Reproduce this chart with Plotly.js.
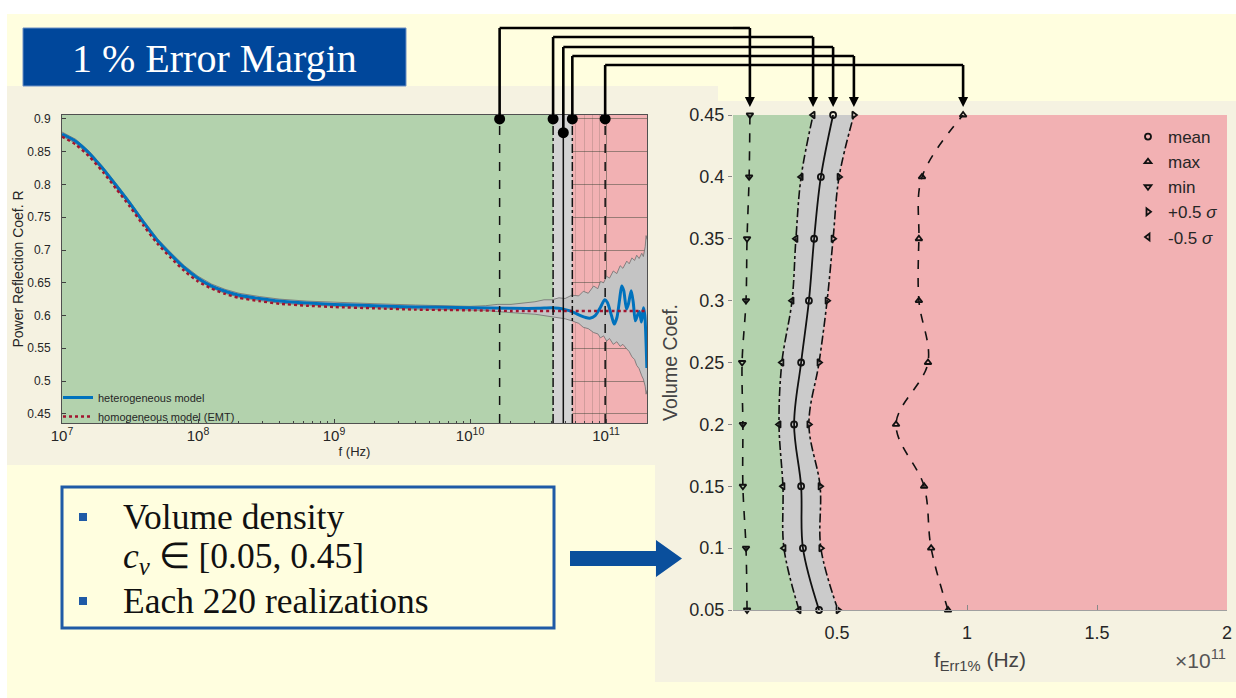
<!DOCTYPE html>
<html>
<head>
<meta charset="utf-8">
<script src="https://cdn.plot.ly/plotly-3.0.1.min.js"></script>
<style>
  html, body { margin: 0; padding: 0; background: #ffffff; }
  #chart { width: 1236px; height: 698px; }
</style>
</head>
<body>
<div id="chart"></div>
<script>
// ---------------- data ----------------
// Volume coefficient c_v of each simulated set
const volumeCoef = [0.05, 0.10, 0.15, 0.20, 0.25, 0.30, 0.35, 0.40, 0.45];

// Frequency at which the 1 % error is first exceeded, in units of 1e11 Hz
const fMin           = [0.154, 0.150, 0.138, 0.138, 0.135, 0.150, 0.154, 0.162, 0.165];
const fMinusHalfSig  = [0.354, 0.296, 0.292, 0.277, 0.288, 0.327, 0.342, 0.362, 0.408];
const fMean          = [0.431, 0.369, 0.362, 0.335, 0.362, 0.392, 0.412, 0.438, 0.485];
const fPlusHalfSig   = [0.504, 0.438, 0.435, 0.392, 0.431, 0.462, 0.485, 0.508, 0.565];
const fMax           = [0.927, 0.862, 0.835, 0.727, 0.850, 0.815, 0.815, 0.827, 0.985];

// Power reflection coefficient of the heterogeneous model (mean over realizations)
const heteroFreq = [1e7, 1.26e7, 1.58e7, 2e7, 2.51e7, 3.16e7, 3.98e7, 5.01e7, 6.31e7, 7.94e7,
  1e8, 1.26e8, 1.58e8, 2e8, 2.82e8, 3.98e8, 6.31e8, 1e9, 2e9, 3.98e9,
  1e10, 2e10, 3.16e10, 3.98e10, 4.47e10, 5.01e10, 5.62e10, 6.31e10, 7.08e10, 7.59e10,
  8.32e10, 9.12e10, 9.77e10, 1.023e11, 1.096e11, 1.148e11, 1.202e11, 1.259e11, 1.303e11, 1.349e11,
  1.413e11, 1.462e11, 1.531e11, 1.585e11, 1.641e11, 1.698e11, 1.758e11, 1.82e11, 1.884e11, 1.928e11, 1.995e11];
const heteroR = [0.877, 0.866, 0.848, 0.824, 0.798, 0.771, 0.742, 0.715, 0.693, 0.673,
  0.657, 0.645, 0.637, 0.631, 0.626, 0.622, 0.619, 0.617, 0.615, 0.613,
  0.612, 0.611, 0.611, 0.612, 0.611, 0.609, 0.606, 0.601, 0.597, 0.596,
  0.600, 0.613, 0.624, 0.620, 0.600, 0.587, 0.597, 0.625, 0.645, 0.638,
  0.610, 0.618, 0.638, 0.620, 0.592, 0.600, 0.606, 0.590, 0.612, 0.600, 0.520];

// Homogeneous model (effective medium theory)
const emtFreq = [1e7, 1.26e7, 1.58e7, 2e7, 2.51e7, 3.16e7, 3.98e7, 5.01e7, 6.31e7, 7.94e7,
  1e8, 1.26e8, 1.58e8, 2e8, 2.82e8, 3.98e8, 6.31e8, 1e9, 2e9, 3.98e9,
  1e10, 2e10, 5e10, 1e11, 2e11];
const emtR = [0.873, 0.861, 0.843, 0.819, 0.793, 0.766, 0.737, 0.710, 0.688, 0.668,
  0.652, 0.641, 0.633, 0.627, 0.622, 0.618, 0.615, 0.613, 0.611, 0.609,
  0.608, 0.607, 0.607, 0.607, 0.607];

// Min / max envelope over all realizations
const envFreq = [1e7, 1.26e7, 1.58e7, 2e7, 2.51e7, 3.16e7, 3.98e7, 5.01e7, 6.31e7, 7.94e7,
  1e8, 1.26e8, 1.58e8, 2e8, 2.82e8, 3.98e8, 6.31e8, 1e9, 2e9, 3.98e9,
  1e10, 1.3e10, 1.6e10, 2e10, 2.5e10, 3e10, 3.5e10, 4e10, 4.5e10, 5e10,
  5.6e10, 6.3e10, 6.8e10, 7.4e10, 8.1e10, 8.7e10, 9.1e10, 9.6e10, 1.01e11, 1.06e11,
  1.13e11, 1.2e11, 1.27e11, 1.33e11, 1.42e11, 1.48e11, 1.55e11, 1.62e11, 1.68e11, 1.75e11,
  1.83e11, 1.88e11, 1.94e11, 1.97e11, 2e11];
const envUpper = [0.880, 0.869, 0.851, 0.827, 0.801, 0.774, 0.745, 0.718, 0.696, 0.676,
  0.660, 0.648, 0.640, 0.634, 0.629, 0.625, 0.622, 0.620, 0.618, 0.616,
  0.614, 0.615, 0.617, 0.617, 0.619, 0.621, 0.624, 0.624, 0.627, 0.626,
  0.631, 0.630, 0.637, 0.634, 0.645, 0.641, 0.652, 0.650, 0.660, 0.657,
  0.668, 0.664, 0.676, 0.672, 0.683, 0.679, 0.688, 0.684, 0.692, 0.687,
  0.695, 0.690, 0.705, 0.722, 0.716];
const envLower = [0.874, 0.863, 0.845, 0.821, 0.795, 0.768, 0.739, 0.712, 0.690, 0.670,
  0.654, 0.642, 0.634, 0.628, 0.623, 0.619, 0.616, 0.614, 0.612, 0.610,
  0.609, 0.608, 0.606, 0.605, 0.603, 0.602, 0.600, 0.599, 0.597, 0.595,
  0.592, 0.588, 0.582, 0.580, 0.574, 0.572, 0.566, 0.569, 0.561, 0.565,
  0.556, 0.560, 0.553, 0.556, 0.549, 0.545, 0.537, 0.533, 0.524, 0.519,
  0.508, 0.503, 0.492, 0.480, 0.486];

// tick labels
const rTicks = [0.45, 0.5, 0.55, 0.6, 0.65, 0.7, 0.75, 0.8, 0.85, 0.9];
const fErrTicks = [0.5, 1, 1.5, 2];

// ---------------- styling ----------------
const W = 1236, H = 698;
const PX = v => v / W;          // page column -> paper fraction
const PY = v => 1 - v / H;      // page row    -> paper fraction

const SANS = 'Liberation Sans, Arial, sans-serif';
const SERIF = 'Liberation Serif, Times New Roman, serif';
const INK = '#262626';
const YELLOW = '#fffedf';
const BEIGE = '#f5f2e1';
const GREEN = '#b3d2ad';
const PINK = '#f2b1b3';
const GRAYZONE = '#cbcbcb';
const SLIDE_BLUE = '#1f5aa6';

const F_RANGE = [1e7, 2e11];      // left chart frequency span (Hz)
const R_RANGE = [0.436, 0.906];
const FERR_RANGE = [0.1, 2];      // right chart span (x 1e11 Hz)
const CV_RANGE = [0.05, 0.45];
const SCALE = 1e11;
const topRow = volumeCoef.length - 1;   // c_v = 0.45 row, the one mapped onto the spectrum
const DOT_R = [0.9, 0.879];             // heights of the pick-off dots on the spectrum
const DOT_ROWS = [119, 133];            // the same heights as page rows, for the connector ends

// ---------------- traces: spectrum (left) ----------------
const L = {xaxis: 'x', yaxis: 'y', hoverinfo: 'skip', legend: 'legend2'};
const traces = [];

// accuracy zones along the frequency axis
traces.push(Object.assign({}, L, {
  x: [F_RANGE[0], fMinusHalfSig[topRow] * SCALE, fMinusHalfSig[topRow] * SCALE, F_RANGE[0]],
  y: [R_RANGE[0], R_RANGE[0], R_RANGE[1], R_RANGE[1]],
  mode: 'lines', fill: 'toself', fillcolor: GREEN, line: {width: 0}, showlegend: false
}));
traces.push(Object.assign({}, L, {
  x: [fMinusHalfSig[topRow] * SCALE, fPlusHalfSig[topRow] * SCALE, fPlusHalfSig[topRow] * SCALE, fMinusHalfSig[topRow] * SCALE],
  y: [R_RANGE[0], R_RANGE[0], R_RANGE[1], R_RANGE[1]],
  mode: 'lines', fill: 'toself', fillcolor: '#d3d3d3', line: {width: 0}, showlegend: false
}));

// spread of all realizations
traces.push(Object.assign({}, L, {
  x: envFreq, y: envLower, mode: 'lines', line: {color: '#6e6e6e', width: 0.8}, showlegend: false
}));
traces.push(Object.assign({}, L, {
  x: envFreq, y: envUpper, mode: 'lines', fill: 'tonexty', fillcolor: '#c4c4c4',
  line: {color: '#6e6e6e', width: 0.8}, showlegend: false
}));

traces.push(Object.assign({}, L, {
  x: heteroFreq, y: heteroR, mode: 'lines', name: 'heterogeneous model',
  line: {color: '#0072bd', width: 3, shape: 'spline', smoothing: 0.7}
}));
traces.push(Object.assign({}, L, {
  x: emtFreq, y: emtR, mode: 'lines', name: 'homogeneous model (EMT)',
  line: {color: '#a2142f', width: 2.4, dash: 'dot', shape: 'spline', smoothing: 0.6}
}));

// statistic markers on the spectrum
const stats = [
  {arr: fMin,          dash: 'dash',    level: 28, dot: 0},
  {arr: fMinusHalfSig, dash: 'dashdot', level: 37, dot: 0},
  {arr: fMean,         dash: 'solid',   level: 47, dot: 1},
  {arr: fPlusHalfSig,  dash: 'dashdot', level: 56, dot: 0},
  {arr: fMax,          dash: 'dash',    level: 65, dot: 0}
];
stats.forEach(s => {
  traces.push(Object.assign({}, L, {
    x: [s.arr[topRow] * SCALE, s.arr[topRow] * SCALE], y: R_RANGE, mode: 'lines',
    line: {color: '#111111', width: 1.5, dash: s.dash}, showlegend: false
  }));
});
traces.push(Object.assign({}, L, {
  x: stats.map(s => s.arr[topRow] * SCALE), y: stats.map(s => DOT_R[s.dot]),
  mode: 'markers', cliponaxis: false, showlegend: false,
  marker: {symbol: 'circle', size: 11, color: '#000000'}
}));

// ---------------- traces: f_Err1% vs c_v (right) ----------------
const R = {xaxis: 'x2', yaxis: 'y2', hoverinfo: 'skip', legend: 'legend'};
traces.push(Object.assign({}, R, {
  x: fMinusHalfSig, y: volumeCoef, mode: 'lines', fill: 'tozerox', fillcolor: GREEN,
  line: {width: 0, shape: 'spline'}, showlegend: false
}));
traces.push(Object.assign({}, R, {
  x: fPlusHalfSig, y: volumeCoef, mode: 'lines', fill: 'tonextx', fillcolor: GRAYZONE,
  line: {width: 0, shape: 'spline'}, showlegend: false
}));

const series = [
  {arr: fMean,         name: 'mean',            sym: 'circle-open',         dash: 'solid',   w: 1.8},
  {arr: fMax,          name: 'max',             sym: 'triangle-up-open',    dash: 'dash',    w: 1.6},
  {arr: fMin,          name: 'min',             sym: 'triangle-down-open',  dash: 'dash',    w: 1.6},
  {arr: fPlusHalfSig,  name: '+0.5 <i>σ</i>',   sym: 'triangle-right-open', dash: 'dashdot', w: 1.6},
  {arr: fMinusHalfSig, name: '-0.5 <i>σ</i>',   sym: 'triangle-left-open',  dash: 'dashdot', w: 1.6}
];
series.forEach(s => {
  traces.push(Object.assign({}, R, {
    x: s.arr, y: volumeCoef, mode: 'lines', showlegend: false, cliponaxis: false,
    line: {color: '#111111', width: s.w, dash: s.dash, shape: 'spline'}
  }));
});
series.forEach(s => {
  traces.push(Object.assign({}, R, {
    x: s.arr, y: volumeCoef, mode: 'markers', name: s.name, cliponaxis: false,
    marker: {symbol: s.sym, size: 6, color: '#111111', line: {color: '#111111', width: 1.8}}
  }));
});

// ---------------- decorations ----------------
const shapes = [
  // slide and figure backgrounds
  {type: 'rect', xref: 'paper', yref: 'paper', x0: PX(7), x1: 1, y0: 0, y1: PY(14),
   fillcolor: YELLOW, line: {width: 0}, layer: 'below'},
  {type: 'rect', xref: 'paper', yref: 'paper', x0: PX(7), x1: PX(718), y0: PY(465), y1: PY(86),
   fillcolor: BEIGE, line: {width: 0}, layer: 'below'},
  {type: 'rect', xref: 'paper', yref: 'paper', x0: PX(655), x1: 1, y0: PY(682), y1: PY(101),
   fillcolor: BEIGE, line: {width: 0}, layer: 'below'},
  // plot areas (error zone colour)
  {type: 'rect', xref: 'x domain', yref: 'y domain', x0: 0, x1: 1, y0: 0, y1: 1,
   fillcolor: PINK, line: {width: 0}, layer: 'below'},
  {type: 'rect', xref: 'x2 domain', yref: 'y2 domain', x0: 0, x1: 1, y0: 0, y1: 1,
   fillcolor: PINK, line: {width: 0}, layer: 'below'},
  // heading box
  {type: 'rect', xref: 'paper', yref: 'paper', x0: PX(23), x1: PX(406), y0: PY(86), y1: PY(28),
   fillcolor: '#00479b', line: {color: '#6d90c4', width: 1}, layer: 'below'},
  // bullet box
  {type: 'rect', xref: 'paper', yref: 'paper', x0: PX(62), x1: PX(554), y0: PY(628), y1: PY(487),
   fillcolor: 'rgba(0,0,0,0)', line: {color: SLIDE_BLUE, width: 3}},
  {type: 'rect', xref: 'paper', yref: 'paper', x0: PX(79), x1: PX(87), y0: PY(521), y1: PY(513),
   fillcolor: SLIDE_BLUE, line: {width: 0}},
  {type: 'rect', xref: 'paper', yref: 'paper', x0: PX(79), x1: PX(87), y0: PY(605), y1: PY(597),
   fillcolor: SLIDE_BLUE, line: {width: 0}},
  // block arrow
  {type: 'path', xref: 'paper', yref: 'paper',
   path: 'M' + PX(570) + ',' + PY(551) + ' L' + PX(656) + ',' + PY(551) + ' L' + PX(656) + ',' + PY(540) +
         ' L' + PX(682) + ',' + PY(558.5) + ' L' + PX(656) + ',' + PY(577) + ' L' + PX(656) + ',' + PY(566) +
         ' L' + PX(570) + ',' + PY(566) + ' Z',
   fillcolor: '#0a4f9c', line: {width: 0}}
];

const annotations = [
  {xref: 'paper', yref: 'paper', x: PX(214), y: PY(58), text: '1 % Error Margin', showarrow: false,
   xanchor: 'center', yanchor: 'middle', font: {family: SERIF, size: 40, color: '#ffffff'}},
  {xref: 'paper', yref: 'paper', x: PX(121), y: PY(517), text: 'Volume density', showarrow: false,
   xanchor: 'left', yanchor: 'middle', font: {family: SERIF, size: 35.5, color: '#111111'}},
  {xref: 'paper', yref: 'paper', x: PX(121), y: PY(558), text: '<i>c</i><sub><i>v</i></sub> ∈ [0.05, 0.45]',
   showarrow: false, xanchor: 'left', yanchor: 'middle', font: {family: SERIF, size: 35.5, color: '#111111'}},
  {xref: 'paper', yref: 'paper', x: PX(121), y: PY(601), text: 'Each 220 realizations', showarrow: false,
   xanchor: 'left', yanchor: 'middle', font: {family: SERIF, size: 35.5, color: '#111111'}},
  {xref: 'paper', yref: 'paper', x: PX(1228), y: PY(659), text: '×10<sup>11</sup>', showarrow: false,
   xanchor: 'right', yanchor: 'middle', font: {family: SANS, size: 21, color: '#555555'}}
];

// connectors from the spectrum markers (c_v = 0.45) to the matching points on the right
const leftDomain = [PX(62), PX(647)];
const rightDomain = [PX(733), PX(1227)];
const CONNECT = {color: '#000000', width: 2.6};
stats.forEach(s => {
  const fHz = s.arr[topRow] * SCALE;
  const fR = s.arr[topRow];
  const dotRow = DOT_ROWS[s.dot];
  shapes.push({type: 'line', xref: 'x', yref: 'paper', x0: fHz, x1: fHz, y0: PY(dotRow), y1: PY(s.level), line: CONNECT});
  shapes.push({type: 'line', xref: 'x', yref: 'paper', x0: fHz, x1: F_RANGE[1], y0: PY(s.level), y1: PY(s.level), line: CONNECT});
  shapes.push({type: 'line', xref: 'paper', yref: 'paper', x0: leftDomain[1], x1: rightDomain[0], y0: PY(s.level), y1: PY(s.level), line: CONNECT});
  shapes.push({type: 'line', xref: 'x2', yref: 'paper', x0: FERR_RANGE[0], x1: fR, y0: PY(s.level), y1: PY(s.level), line: CONNECT});
  shapes.push({type: 'line', xref: 'x2', yref: 'paper', x0: fR, x1: fR, y0: PY(s.level), y1: PY(99), line: CONNECT});
  // arrowhead, tip just above the c_v = 0.45 marker
  shapes.push({type: 'path', xref: 'x2', yref: 'paper', xsizemode: 'pixel', ysizemode: 'pixel',
    xanchor: fR, yanchor: PY(107), path: 'M-5,10 L5,10 L0,0 Z',
    fillcolor: '#000000', line: {width: 0}});
});

const tickFontL = {family: SANS, size: 12, color: INK};
const tickFontR = {family: SANS, size: 18, color: INK};

const layout = {
  width: W, height: H,
  margin: {l: 0, r: 0, t: 0, b: 0},
  paper_bgcolor: '#ffffff',
  plot_bgcolor: 'rgba(0,0,0,0)',
  font: {family: SANS, color: INK},
  hovermode: false,
  xaxis: {
    domain: leftDomain, anchor: 'y', type: 'log',
    range: [Math.log10(F_RANGE[0]), Math.log10(F_RANGE[1])],
    dtick: 1, exponentformat: 'power', showexponent: 'all',
    tickfont: tickFontL, ticks: 'inside', ticklen: 4, tickcolor: '#404040',
    showgrid: true, gridcolor: 'rgba(45,60,45,0.45)', gridwidth: 1,
    minor: {dtick: 'D1', showgrid: true, gridcolor: 'rgba(45,60,45,0.17)', ticks: 'inside', ticklen: 2, tickcolor: '#404040'},
    showline: true, mirror: true, linecolor: '#505050', linewidth: 1, zeroline: false,
    title: {text: 'f (Hz)', font: {family: SANS, size: 13, color: INK}, standoff: 3},
    automargin: false, fixedrange: true
  },
  yaxis: {
    domain: [PY(423), PY(115)], anchor: 'x', range: R_RANGE,
    tickmode: 'array', tickvals: rTicks,
    tickfont: tickFontL, ticks: 'inside', ticklen: 4, tickcolor: '#404040',
    ticklabelstandoff: 8,
    showgrid: true, gridcolor: 'rgba(45,60,45,0.45)', gridwidth: 1,
    showline: true, mirror: true, linecolor: '#505050', linewidth: 1, zeroline: false,
    title: {text: 'Power Reflection Coef. R', font: {family: SANS, size: 14, color: INK}, standoff: 0},
    automargin: false, fixedrange: true
  },
  xaxis2: {
    domain: rightDomain, anchor: 'y2', range: FERR_RANGE,
    tickmode: 'array', tickvals: fErrTicks,
    tickfont: tickFontR, ticks: 'inside', ticklen: 5, tickcolor: '#888888',
    showgrid: false, zeroline: false, showline: true, linecolor: '#a0a0a0', linewidth: 1,
    ticklabelstandoff: 6,
    title: {text: 'f<sub>Err1%</sub> (Hz)', font: {family: SANS, size: 21, color: '#444444'}, standoff: 10},
    automargin: false, fixedrange: true
  },
  yaxis2: {
    domain: [PY(610), PY(115)], anchor: 'x2', range: CV_RANGE,
    tickmode: 'array', tickvals: volumeCoef,
    tickfont: tickFontR, ticks: 'outside', ticklen: 4, tickcolor: '#888888',
    showgrid: false, zeroline: false, showline: false,
    title: {text: 'Volume Coef.', font: {family: SANS, size: 19.5, color: '#444444'}, standoff: 6},
    automargin: false, fixedrange: true
  },
  legend: {
    x: PX(1128), y: PY(119), xanchor: 'left', yanchor: 'top', traceorder: 'normal',
    bgcolor: 'rgba(0,0,0,0)', borderwidth: 0,
    font: {family: SANS, size: 17, color: INK}, itemwidth: 30
  },
  legend2: {
    x: PX(58), y: PY(383), xanchor: 'left', yanchor: 'top', traceorder: 'normal',
    bgcolor: 'rgba(0,0,0,0)', borderwidth: 0,
    font: {family: SANS, size: 11, color: INK}, itemwidth: 30
  },
  shapes: shapes,
  annotations: annotations
};

Plotly.newPlot('chart', traces, layout, {staticPlot: true, displayModeBar: false});
</script>
</body>
</html>
